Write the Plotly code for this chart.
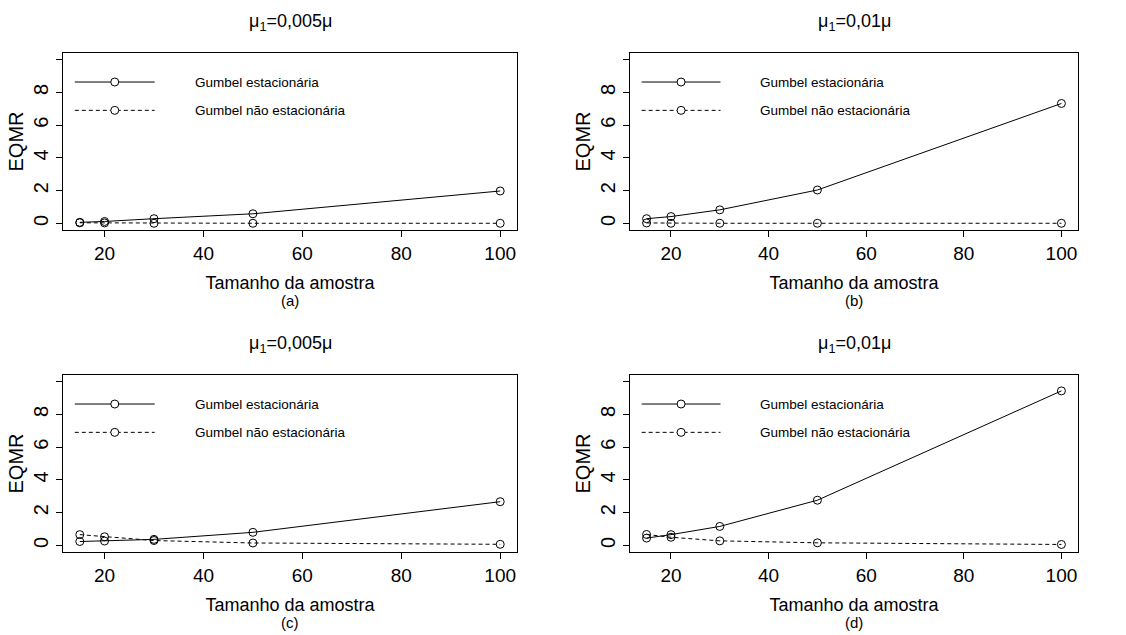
import plotly.graph_objects as go

# ---- data ----
sample_sizes = [15, 20, 30, 50, 100]
a_stat = [0.07, 0.12, 0.29, 0.59, 1.98]
a_nonstat = [0.04, 0.03, 0.01, 0.01, 0.01]
b_stat = [0.29, 0.42, 0.83, 2.04, 7.32]
b_nonstat = [0.03, 0.01, 0.01, 0.01, 0.01]
c_stat = [0.24, 0.27, 0.37, 0.80, 2.67]
c_nonstat = [0.66, 0.53, 0.30, 0.15, 0.07]
d_stat = [0.45, 0.66, 1.16, 2.76, 9.43]
d_nonstat = [0.67, 0.50, 0.28, 0.16, 0.06]

panel_titles = ["μ<sub>1</sub>=0,005μ", "μ<sub>1</sub>=0,01μ", "μ<sub>1</sub>=0,005μ", "μ<sub>1</sub>=0,01μ"]
panel_tags = ["(a)", "(b)", "(c)", "(d)"]
series_names = ["Gumbel estacionária", "Gumbel não estacionária"]
x_label = "Tamanho da amostra"
y_label = "EQMR"
x_ticks = [20, 40, 60, 80, 100]
y_ticks = [0, 2, 4, 6, 8]
y_extra_ticks = [10]

panels = [(a_stat, a_nonstat), (b_stat, b_nonstat), (c_stat, c_nonstat), (d_stat, d_nonstat)]

W, H = 1126, 635
REG = "Liberation Sans, Arial, sans-serif"

# panel boxes in pixels (left, right, top, bottom)
boxes = [(63, 517, 53, 230), (630, 1078, 53, 230), (63, 517, 375, 552), (630, 1078, 375, 552)]

def px(x):
    return x / W

def py(y):
    return 1 - y / H

fig = go.Figure()
layout = dict(width=W, height=H, margin=dict(l=0, r=0, t=0, b=0),
              paper_bgcolor="white", plot_bgcolor="white", showlegend=False)
annotations = []
shapes = []
dash = "4px,3px"

def ann(text, x, y, size, angle=0):
    return dict(text=text, x=px(x), y=py(y), xref="paper", yref="paper",
                xanchor="center", yanchor="middle", showarrow=False, textangle=angle,
                font=dict(family=REG, size=size, color="black"))

for i, (stat, nonstat) in enumerate(panels):
    n = i + 1
    xa = "x" if n == 1 else f"x{n}"
    ya = "y" if n == 1 else f"y{n}"
    l, r, t, b = boxes[i]
    common = dict(showline=True, mirror=True, linecolor="black", linewidth=1,
                  ticks="outside", ticklen=6, tickcolor="black", tickwidth=1,
                  showgrid=False, zeroline=False)
    layout[f"xaxis{n}"] = dict(domain=[px(l), px(r)], anchor=ya, range=[11.6, 103.4],
                               tickvals=x_ticks, tickfont=dict(family=REG, size=19, color="black"),
                               title=dict(text=x_label, standoff=13,
                                          font=dict(family=REG, size=18, color="black")),
                               **common)
    layout[f"yaxis{n}"] = dict(domain=[py(b), py(t)], anchor=xa, range=[-0.4, 10.4],
                               tickvals=y_ticks, tickangle=-90,
                               minor=dict(tickvals=y_extra_ticks, ticks="outside", ticklen=6,
                                          tickcolor="black", tickwidth=1, showgrid=False),
                               tickfont=dict(family=REG, size=20, color="black"),
                               title=dict(text=y_label, standoff=1,
                                          font=dict(family=REG, size=20, color="black")),
                               **common)
    fig.add_trace(go.Scatter(x=sample_sizes, y=stat, xaxis=xa, yaxis=ya, mode="lines+markers",
                             name=series_names[0],
                             line=dict(color="black", width=1),
                             marker=dict(symbol="circle-open", size=8, color="black", line=dict(width=1))))
    fig.add_trace(go.Scatter(x=sample_sizes, y=nonstat, xaxis=xa, yaxis=ya, mode="lines+markers",
                             name=series_names[1],
                             line=dict(color="black", width=1, dash=dash),
                             marker=dict(symbol="circle-open", size=8, color="black", line=dict(width=1))))
    cx = (l + r) / 2
    off = t - 53
    annotations.append(ann(panel_titles[i], cx, 22 + off, 18))
    annotations.append(ann(panel_tags[i], cx, 300 + off, 15))
    # in-panel legend
    xd, yd = f"{xa} domain", f"{ya} domain"
    for k, (yy, dsh) in enumerate([(0.836, "solid"), (0.676, dash)]):
        shapes.append(dict(type="path", xref=xd, yref=yd, path=f"M0.026,{yy} L0.202,{yy}",
                           line=dict(color="black", width=1, dash=dsh)))
        shapes.append(dict(type="circle", xref=xd, yref=yd, xsizemode="pixel", ysizemode="pixel",
                           xanchor=0.114, yanchor=yy, x0=-4, x1=4, y0=-4, y1=4,
                           line=dict(color="black", width=1), fillcolor="white"))
        annotations.append(dict(text=series_names[k], xref=xd, yref=yd, x=0.286, y=yy,
                                xanchor="left", yanchor="middle", showarrow=False,
                                font=dict(family=REG, size=13.5, color="black")))

layout["annotations"] = annotations
layout["shapes"] = shapes
fig.update_layout(**layout)
fig.write_html("out.html")
